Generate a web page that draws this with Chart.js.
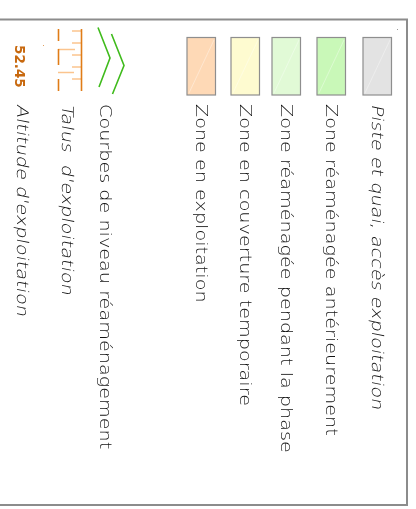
<!DOCTYPE html>
<html>
<head>
<meta charset="utf-8">
<script src="https://cdn.jsdelivr.net/npm/chart.js@4.4.1/dist/chart.umd.min.js"></script>
<style>
  html, body { margin: 0; padding: 0; background: #fff; }
  #wrap { width: 416px; height: 509px; }
</style>
</head>
<body>
<div id="wrap"><canvas id="legend" width="416" height="509"></canvas></div>
<script>
// Legend entries (map legend, drawn rotated 90deg clockwise)
const zoneLabels = [
    'Piste et quai, accès exploitation',
    'Zone réaménagée antérieurement',
    'Zone réaménagée pendant la phase',
    'Zone en couverture temporaire',
    'Zone en exploitation'
];
const zoneFills = ['#e3e3e3', '#c9f8b8', '#e1fad6', '#fefbd0', '#fed9b6'];
const symbolLabels = [
    'Courbes de niveau réaménagement',
    'Talus  d\'exploitation',
    'Altitude d\'exploitation'
];
const altitudeSample = '52.45';

// Layout (screen px)
const ROW_TOP = [363, 317, 272, 231, 187];   // swatch left edge, per zone row
const SYMBOL_BASE = [100, 62, 17];           // text baseline x for symbol rows
const ITALIC = [true, false, false, false, false];
const SYMBOL_ITALIC = [false, true, true];
const TEXT_Y = 104;
const FONT = '"DejaVu Sans", sans-serif';
const ORANGE_DARK = '#e07c17';
const ORANGE_LIGHT = '#fbc48e';
const GREEN = '#3fbb1c';

function drawVerticalText(ctx, text, baseX, topY, font, color, stretch, slant) {
    ctx.save();
    ctx.translate(baseX, topY);
    ctx.rotate(Math.PI / 2);
    if (slant) ctx.transform(1, 0, -slant, 1, 0, 0);
    ctx.font = font;
    ctx.fillStyle = color;
    ctx.textBaseline = 'alphabetic';
    ctx.textAlign = 'left';
    ctx.scale(stretch, 1);
    ctx.fillText(text, 0, 0);
    ctx.restore();
}

// thin upright face, italic made by shearing the same face
function drawLabel(ctx, text, baseX, italic) {
    drawVerticalText(ctx, text, baseX, TEXT_Y, '200 16px ' + FONT, '#111', 1.2, italic ? 0.2 : 0);
}

function line(ctx, x1, y1, x2, y2, color, w) {
    ctx.beginPath();
    ctx.moveTo(x1, y1);
    ctx.lineTo(x2, y2);
    ctx.strokeStyle = color;
    ctx.lineWidth = w;
    ctx.stroke();
}

const rotatedLegend = {
    id: 'rotatedLegend',
    afterDraw(chart) {
        const ctx = chart.ctx;
        ctx.save();

        // frame
        ctx.strokeStyle = '#8c8c8c';
        ctx.lineWidth = 2;
        ctx.strokeRect(-5, 19.5, 412, 485.5);

        // zone swatches + labels
        chart.data.datasets.forEach((ds, i) => {
            const x = ROW_TOP[i];
            ctx.fillStyle = ds.backgroundColor;
            ctx.fillRect(x, 37.5, 28.5, 57.5);
            ctx.strokeStyle = '#8e8e8e';
            ctx.lineWidth = 1.2;
            ctx.strokeRect(x, 37.5, 28.5, 57.5);
            // faint sheen
            line(ctx, x + 2, 93, x + 27, 40, 'rgba(255,255,255,0.45)', 0.8);
            drawLabel(ctx, ds.label, x + 9, ITALIC[i]);
        });

        // chevrons (contour lines)
        ctx.lineJoin = 'miter';
        ctx.beginPath();
        ctx.moveTo(98, 27.5); ctx.lineTo(110, 58); ctx.lineTo(99, 87);
        ctx.moveTo(111.5, 34); ctx.lineTo(124, 65.5); ctx.lineTo(112.5, 94);
        ctx.strokeStyle = GREEN;
        ctx.lineWidth = 1.6;
        ctx.stroke();

        // talus symbol
        [31, 43, 55, 67, 79].forEach(y => line(ctx, 72, y, 81, y, ORANGE_LIGHT, 1.5));
        line(ctx, 81.5, 29, 81.5, 91, ORANGE_DARK, 1.6);
        line(ctx, 58, 49.5, 75, 49.5, ORANGE_LIGHT, 1.5);
        line(ctx, 58, 72.5, 74, 72.5, ORANGE_LIGHT, 1.5);
        [[29, 41], [49, 65], [79, 91]].forEach(s => line(ctx, 58.5, s[0], 58.5, s[1], ORANGE_DARK, 1.6));

        // altitude sample
        drawVerticalText(ctx, altitudeSample, 15, 45, 'bold 13.5px ' + FONT, '#c8690f', 1.0, 0);

        symbolLabels.forEach((t, i) => drawLabel(ctx, t, SYMBOL_BASE[i], SYMBOL_ITALIC[i]));

        // stray specks from the export
        ctx.fillStyle = '#9a9a9a';
        ctx.fillRect(397, 29, 1, 1);
        ctx.fillStyle = '#e0a060';
        ctx.fillRect(43, 45, 1, 1);

        ctx.restore();
    }
};

const legendChart = new Chart(document.getElementById('legend'), {
    type: 'bar',
    data: {
        labels: [],
        datasets: zoneLabels.map((label, i) => ({
            label: label,
            data: [],
            backgroundColor: zoneFills[i]
        }))
    },
    options: {
        responsive: false,
        animation: false,
        events: [],
        layout: { padding: 0 },
        plugins: { legend: { display: false }, tooltip: { enabled: false } },
        scales: { x: { display: false }, y: { display: false } }
    },
    plugins: [rotatedLegend]
});
</script>
</body>
</html>
